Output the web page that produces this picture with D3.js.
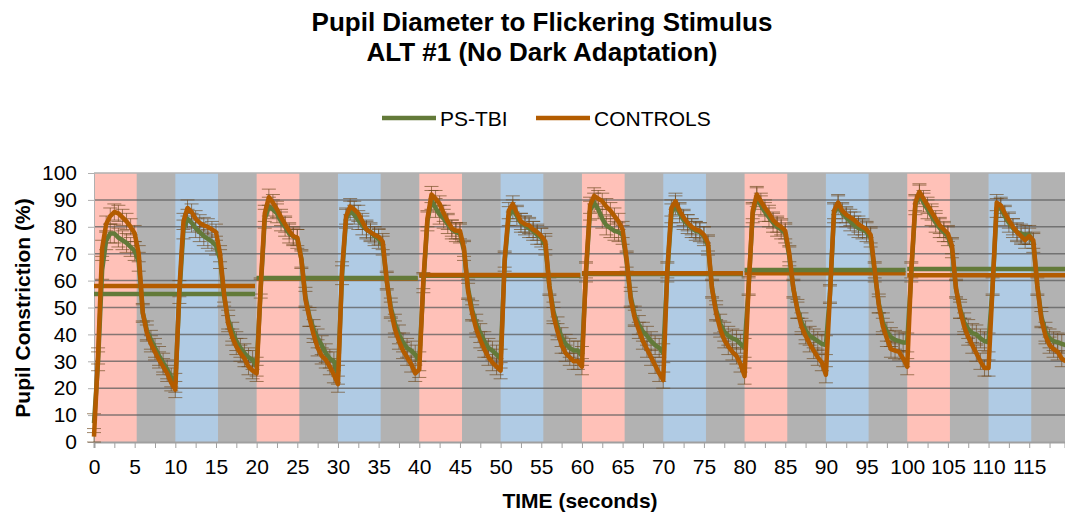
<!DOCTYPE html>
<html>
<head>
<meta charset="utf-8">
<script src="https://cdn.jsdelivr.net/npm/d3@7"></script>
<style>
  body { margin: 0; background: #fff; }
  svg { font-family: "Liberation Sans", Arial, sans-serif; }
</style>
</head>
<body>
<svg width="1065" height="516"></svg>
<script>
// sample spacing of the recorded traces (seconds)
const step = 0.5;

// PS-TBI trace, one row per 10 s cycle
const tbi = [
  7, 30, 64, 75, 77.5, 77.5, 76, 75, 74, 72.5, 71, 67, 48, 41.5, 38, 35, 32, 29.5, 27, 24,
  22, 55, 79, 83, 81.5, 79.5, 78, 76.5, 75.5, 74.5, 73, 68, 54, 45.5, 41, 37.5, 35, 33, 31.5, 30.5,
  28, 57, 83, 87.5, 86.5, 85, 82, 80, 77.5, 76.5, 75.5, 68, 54, 46.5, 42, 38.5, 36, 33, 31, 30,
  25, 62, 83, 86, 84.5, 82.5, 80.5, 79, 78, 76.5, 75.5, 73, 60, 50, 44, 40, 37, 35, 34, 32.5,
  30, 59, 82, 90, 87, 84.5, 83, 81, 79, 78, 77.5, 71, 57, 49, 44, 40.5, 37.5, 35, 34, 32.5,
  31, 67, 84, 86.5, 84, 81.5, 80.5, 79.5, 78.5, 77, 76, 73, 58, 48.5, 43, 39, 36.5, 35, 34, 34,
  32, 63, 86, 89, 86.5, 83, 80.5, 79.5, 78.5, 78, 77, 67, 54, 47, 43.5, 41, 39.5, 37.5, 36, 35,
  33, 63, 85, 88, 85, 82.5, 81, 79.5, 78.5, 78, 76.5, 73, 57, 49, 44, 41, 39.5, 38.5, 38, 36.5,
  35, 58, 85, 91, 88, 85.5, 83.5, 81.5, 80, 79, 77.5, 69, 57, 49.5, 44.5, 41.5, 39.5, 38.5, 37.5, 36.5,
  36, 55, 85, 88, 85, 83.5, 82, 80.5, 79.5, 79, 78, 76, 63, 51.5, 44.5, 41, 39, 38, 37.5, 37,
  37, 63, 88, 92, 89, 86.5, 84, 81.5, 79.5, 78, 76.5, 72, 57, 49.5, 44.5, 42, 40.5, 40, 38.5, 37.5,
  37, 58, 87, 87, 84, 81.5, 79.5, 78, 77.5, 77, 77, 74, 58, 46.5, 41, 38.5, 37.5, 37, 36.5, 36
];

// CONTROLS trace
const controls = [
  2, 32, 72, 81, 84, 85.5, 85, 83.5, 82, 80, 77.5, 70, 48, 40.5, 36.5, 33.5, 30.5, 28, 25.5, 22,
  19.5, 57, 82, 87, 85.5, 83, 81.5, 80.5, 80, 79, 78, 70, 55, 44, 39, 35.5, 33, 31, 28, 26.5,
  25.5, 58, 85, 91, 89, 86.5, 83.5, 81, 78.5, 76.5, 76, 68, 53, 46, 40, 35, 32, 30.5, 28, 25,
  21.5, 64, 84, 87.5, 86.5, 85, 82, 79, 78, 77, 76.3, 74.5, 60, 49, 42, 37.5, 34, 31.5, 29, 25.5,
  27, 60, 83, 92, 90.5, 88.5, 85, 82, 79.5, 78.5, 78.5, 72, 56, 48, 42, 38, 34.5, 31.5, 29.5, 28,
  26.5, 68, 86, 88.5, 85, 82, 81, 80.5, 79, 78, 76.5, 74.5, 58, 47, 41, 36, 33, 31.5, 30, 30,
  28, 64, 88, 91.5, 90.5, 89.5, 87.5, 86, 84, 82, 79, 68, 53, 46, 41.5, 37.5, 34.5, 31.5, 28.5, 25.5,
  23, 64, 87, 89.5, 86, 83.5, 81.5, 80, 79, 78.5, 77, 74, 57, 48, 42, 38, 35.5, 33.5, 32, 29,
  24.5, 58, 86, 92, 89.5, 87, 85, 82.5, 81, 80, 78.5, 70, 57, 49, 43, 39.5, 36.5, 34, 31.5, 29.5,
  25, 55, 86, 89, 86, 84.5, 83.5, 82.5, 81, 80, 79, 77, 64, 51, 43, 38.5, 34.5, 34, 33.5, 31,
  28, 64, 89, 93, 90.5, 88, 85.5, 83, 80.5, 79, 77.5, 73, 57, 49, 43, 39, 36, 33, 30, 27.5,
  27.5, 58, 89, 88, 85, 82.5, 80, 78, 76.5, 75, 76.5, 75, 58, 45.5, 39.5, 36, 34.5, 33.5, 31, 30
];

// error bar half-widths
const tbiErr = 3.5;
const controlsErr = 3;

// 20 s block averages
const blockStart = [0, 20, 40, 60, 80, 100];
const tbiMean = [55, 61, 61.8, 62.5, 63.9, 64.3];
const controlsMean = [58, 60.8, 62.1, 62.7, 62.7, 62];

// stimulus bands (red / blue flashes), gray between
const bandStart = [0, 10, 20, 30, 40, 50, 60, 70, 80, 90, 100, 110];
const bandType = ["red", "blue", "red", "blue", "red", "blue", "red", "blue", "red", "blue", "red", "blue"];
const bandLength = 5.25;

const xTicks = [0, 5, 10, 15, 20, 25, 30, 35, 40, 45, 50, 55, 60, 65, 70, 75, 80, 85, 90, 95, 100, 105, 110, 115];
const yTicks = [0, 10, 20, 30, 40, 50, 60, 70, 80, 90, 100];

const svg = d3.select("svg");
const plotLeft = 94, plotRight = 1065, plotTop = 173, plotBottom = 442;
const green = "#637a39", orange = "#b35c00";
const tickFont = 21;

const x = d3.scaleLinear().domain([0, 119.4]).range([plotLeft, plotRight]);
const y = d3.scaleLinear().domain([0, 100]).range([plotBottom, plotTop]);

// plot background + bands
svg.append("rect")
  .attr("x", plotLeft).attr("y", plotTop)
  .attr("width", plotRight - plotLeft).attr("height", plotBottom - plotTop)
  .attr("fill", "#b2b2b2");

const bandColor = { red: "#ffc1b8", blue: "#b0cbe4" };
svg.append("g").selectAll("rect")
  .data(bandStart)
  .join("rect")
  .attr("x", d => x(d))
  .attr("y", plotTop)
  .attr("width", d => Math.min(x(d + bandLength), plotRight) - x(d))
  .attr("height", plotBottom - plotTop)
  .attr("fill", (d, i) => bandColor[bandType[i]]);

// gridlines
svg.append("g").selectAll("line")
  .data(yTicks.filter(v => v > 0))
  .join("line")
  .attr("x1", plotLeft).attr("x2", plotRight)
  .attr("y1", d => y(d)).attr("y2", d => y(d))
  .attr("stroke", d => d === 100 ? "#b0b0b0" : "#5c5c5c")
  .attr("stroke-opacity", d => d === 100 ? 1 : 0.75)
  .attr("stroke-width", 1.5);

// axes
const xAxis = d3.axisBottom(x)
  .tickValues(d3.range(0, 119.4, 2.5))
  .tickSize(6)
  .tickPadding(11)
  .tickFormat(d => xTicks.includes(d) ? d : "");

const gx = svg.append("g")
  .attr("transform", `translate(0, ${plotBottom})`)
  .call(xAxis);
gx.select(".domain").attr("stroke", "#a0a0a0").attr("stroke-width", 2);
gx.selectAll(".tick line").attr("stroke", "#a0a0a0");
gx.selectAll("text").attr("font-size", tickFont).attr("fill", "#000")
  .attr("font-family", "Liberation Sans, Arial, sans-serif");

const yAxis = d3.axisLeft(y).tickValues(yTicks).tickSize(6).tickPadding(11);
const gy = svg.append("g")
  .attr("transform", `translate(${plotLeft}, 0)`)
  .call(yAxis);
gy.select(".domain").attr("stroke", "#b0b0b0");
gy.selectAll(".tick line").attr("stroke", "#b0b0b0");
gy.selectAll("text").attr("font-size", tickFont).attr("fill", "#000")
  .attr("font-family", "Liberation Sans, Arial, sans-serif");

// error bars
function errorBars(values, err) {
  const g = svg.append("g")
    .attr("stroke", "#6e4a1e")
    .attr("stroke-opacity", 0.65)
    .attr("stroke-width", 1);
  const pts = values.map((v, i) => [i * step, v]).filter(d => d[0] <= 119.4);
  g.selectAll(".v").data(pts).join("line")
    .attr("x1", d => x(d[0])).attr("x2", d => x(d[0]))
    .attr("y1", d => y(Math.max(0, d[1] - err))).attr("y2", d => y(d[1] + err));
  g.selectAll(".t").data(pts).join("line")
    .attr("x1", d => x(d[0]) - 7).attr("x2", d => x(d[0]) + 7)
    .attr("y1", d => y(d[1] + err)).attr("y2", d => y(d[1] + err));
  g.selectAll(".b").data(pts).join("line")
    .attr("x1", d => x(d[0]) - 7).attr("x2", d => x(d[0]) + 7)
    .attr("y1", d => y(Math.max(0, d[1] - err))).attr("y2", d => y(Math.max(0, d[1] - err)));
}
errorBars(tbi, tbiErr);
errorBars(controls, controlsErr);

// block mean segments, the higher one drawn last
const segs = [];
blockStart.forEach((b, i) => {
  segs.push({ b: b, v: tbiMean[i], c: green });
  segs.push({ b: b, v: controlsMean[i], c: orange });
});
segs.sort((a, b) => a.v - b.v);
svg.append("g").selectAll("line")
  .data(segs)
  .join("line")
  .attr("x1", d => x(d.b)).attr("x2", d => Math.min(x(d.b + 19.8), plotRight))
  .attr("y1", d => y(d.v)).attr("y2", d => y(d.v))
  .attr("stroke", d => d.c)
  .attr("stroke-width", 4.5);

// traces
const line = d3.line()
  .x((d, i) => x(i * step))
  .y(d => y(d));

svg.append("path")
  .datum(tbi)
  .attr("d", line)
  .attr("fill", "none")
  .attr("stroke", green)
  .attr("stroke-width", 4.5)
  .attr("stroke-linejoin", "round");

svg.append("path")
  .datum(controls)
  .attr("d", line)
  .attr("fill", "none")
  .attr("stroke", orange)
  .attr("stroke-width", 4.5)
  .attr("stroke-linejoin", "round");

// title
svg.append("text")
  .attr("x", 542).attr("y", 31)
  .attr("text-anchor", "middle")
  .attr("font-size", 26).attr("font-weight", "bold")
  .text("Pupil Diameter to Flickering Stimulus");
svg.append("text")
  .attr("x", 542).attr("y", 61)
  .attr("text-anchor", "middle")
  .attr("font-size", 26).attr("font-weight", "bold")
  .text("ALT #1 (No Dark Adaptation)");

// legend
const legend = [
  { name: "PS-TBI", color: green, x: 382 },
  { name: "CONTROLS", color: orange, x: 536 }
];
const lg = svg.append("g").selectAll("g").data(legend).join("g");
lg.append("line")
  .attr("x1", d => d.x).attr("x2", d => d.x + 54)
  .attr("y1", 118).attr("y2", 118)
  .attr("stroke", d => d.color).attr("stroke-width", 4.5);
lg.append("text")
  .attr("x", d => d.x + 58).attr("y", 125.5)
  .attr("font-size", 21)
  .text(d => d.name);

// axis titles
svg.append("text")
  .attr("transform", "translate(29.5, 308) rotate(-90)")
  .attr("text-anchor", "middle")
  .attr("font-size", 21).attr("font-weight", "bold")
  .text("Pupil Constriction (%)");
svg.append("text")
  .attr("x", 580).attr("y", 507.5)
  .attr("text-anchor", "middle")
  .attr("font-size", 21).attr("font-weight", "bold")
  .text("TIME (seconds)");
</script>
</body>
</html>
